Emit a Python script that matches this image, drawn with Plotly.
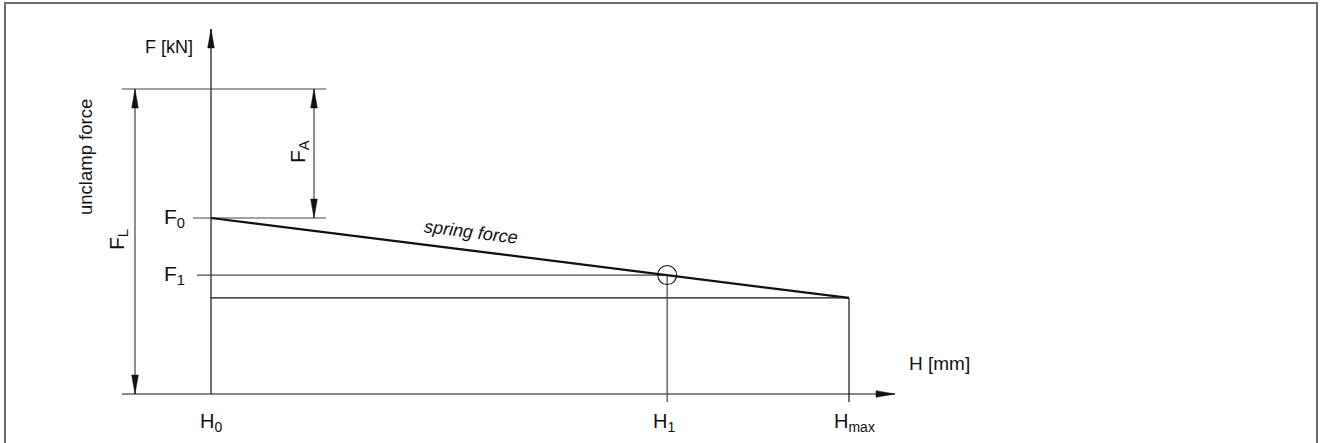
import plotly.graph_objects as go

# ---------------- data ----------------
stroke_labels = ["H<sub>0</sub>", "H<sub>1</sub>", "H<sub>max</sub>"]
stroke_values = [0.0, 7.15, 10.0]          # H [mm]
force_labels = ["F<sub>0</sub>", "F<sub>1</sub>"]
force_values = [57.7, 39.0]                # F [kN]
spring_H = [0.0, 10.0]                     # spring force line
spring_F = [57.7, 31.5]
unclamp_force = 100.0                      # F_L
axis_titles = ["F [kN]", "H [mm]"]

# ---------------- layout constants ----------------
W, HT = 1322, 443
X0_PX, Y0_PX = 211, 394      # pixel position of origin
SX, SY = 63.8, 3.05          # px per mm, px per kN
xr = [-X0_PX / SX, (W - X0_PX) / SX]
yr = [-(HT - Y0_PX) / SY, Y0_PX / SY]


def dx(p):
    return p / SX


def dy(p):
    return p / SY


FONT = "Liberation Sans Narrow, Arial Narrow, Liberation Sans, Arial, sans-serif"
INK = "#111111"
GREY = "#444444"

H0, H1, HMAX = stroke_values
F0, F1 = force_values
FHMAX = spring_F[1]
FL = unclamp_force

fig = go.Figure()


def line(xs, ys, color=GREY, width=1.0):
    fig.add_trace(go.Scatter(x=xs, y=ys, mode="lines",
                             line=dict(color=color, width=width),
                             hoverinfo="skip", showlegend=False))


def arrow(xt, yt, direction, color=INK):
    L, w = 19, 3.3
    if direction == "up":
        xs = [xt, xt - dx(w), xt + dx(w), xt]
        ys = [yt, yt - dy(L), yt - dy(L), yt]
    elif direction == "down":
        xs = [xt, xt - dx(w), xt + dx(w), xt]
        ys = [yt, yt + dy(L), yt + dy(L), yt]
    else:  # right
        xs = [xt, xt - dx(L), xt - dx(L), xt]
        ys = [yt, yt + dy(w), yt - dy(w), yt]
    fig.add_trace(go.Scatter(x=xs, y=ys, mode="lines", fill="toself",
                             fillcolor=color, line=dict(color=color, width=0.5),
                             hoverinfo="skip", showlegend=False))


# axes
h_axis_start = H0 - dx(89)
h_axis_end = H0 + dx(684)
f_axis_end = dy(365)
line([h_axis_start, h_axis_end], [0, 0], INK, 1.2)
arrow(h_axis_end, 0, "right")
line([H0, H0], [0, f_axis_end], INK, 1.2)
arrow(H0, f_axis_end, "up")

# extension lines
line([H0 - dx(89), H0 + dx(115)], [FL, FL], GREY, 1.2)
line([H0 - dx(18), H0 + dx(115)], [F0, F0], GREY, 1.2)
line([H0 - dx(14), H1], [F1, F1], GREY, 1.2)
line([H0, HMAX], [FHMAX, FHMAX], INK, 1.2)
line([H1, H1], [F1, -dy(8)], GREY, 1.2)
line([HMAX, HMAX], [FHMAX, -dy(8)], INK, 1.2)

# dimension lines
xL = H0 - dx(76)
xA = H0 + dx(103)
line([xL, xL], [0, FL], GREY, 1.2)
arrow(xL, FL, "up")
arrow(xL, 0, "down")
line([xA, xA], [F0, FL], GREY, 1.2)
arrow(xA, FL, "up")
arrow(xA, F0, "down")

# spring force line
line(spring_H, spring_F, INK, 2.2)

# operating point circle
fig.add_trace(go.Scatter(x=[H1], y=[F1], mode="markers",
                         marker=dict(symbol="circle-open", size=19, color=INK,
                                     line=dict(color=INK, width=1.1)),
                         hoverinfo="skip", showlegend=False))

# ---------------- text ----------------
def txt(x, y, s, size=20, xanchor="center", yanchor="middle", angle=0,
        xshift=0, yshift=0, italic=False):
    fig.add_annotation(x=x, y=y, xref="x", yref="y", text=s, showarrow=False,
                       xanchor=xanchor, yanchor=yanchor, textangle=angle,
                       xshift=xshift, yshift=yshift,
                       font=dict(family=FONT, size=size, color=INK,
                                 style="italic" if italic else "normal"))


txt(H0 - dx(16), f_axis_end - dy(18), axis_titles[0], size=18, xanchor="right")
txt(h_axis_end + dx(12), dy(31), axis_titles[1], size=19, xanchor="left")
txt(H0 - dx(126), dy(237), "unclamp force", size=18.5, angle=-90)
txt(H0 - dx(93), dy(154), "F<sub>L</sub>", size=21, angle=-90)
txt(xA - dx(15), dy(242), "F<sub>A</sub>", size=21, angle=-90)
for lab, val in zip(force_labels, force_values):
    txt(H0 - dx(24), val, lab, size=21, xanchor="right")
shifts = [0, -3, 5]
for lab, val, s in zip(stroke_labels, stroke_values, shifts):
    txt(val, -dy(28), lab, size=20, xshift=s)
txt(H0 + dx(260), dy(162), "spring force", size=18, angle=7.1, italic=True)

# frame
fig.add_shape(type="rect", xref="paper", yref="paper",
              x0=5 / W, x1=1317 / W, y0=-0.02, y1=1 - 3 / HT,
              line=dict(color="#6e6e6e", width=2))

fig.update_layout(
    width=W, height=HT,
    margin=dict(l=0, r=0, t=0, b=0),
    paper_bgcolor="white", plot_bgcolor="white",
    xaxis=dict(range=xr, visible=False, fixedrange=True),
    yaxis=dict(range=yr, visible=False, fixedrange=True),
    showlegend=False,
)

fig.write_html("out.html", config={"displayModeBar": False},
               post_script="document.body.style.margin='0';")
